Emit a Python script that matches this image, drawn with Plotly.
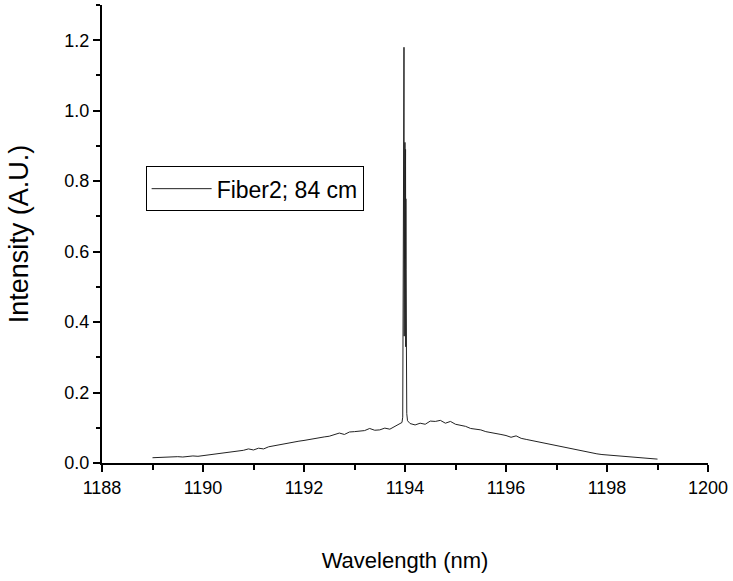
import plotly.graph_objects as go

# Broad emission background, 0.1 nm steps on each side of the line
wl_left = [1189.0, 1189.1, 1189.2, 1189.3, 1189.4, 1189.5, 1189.6, 1189.7, 1189.8, 1189.9,
           1190.0, 1190.1, 1190.2, 1190.3, 1190.4, 1190.5, 1190.6, 1190.7, 1190.8, 1190.9,
           1191.0, 1191.1, 1191.2, 1191.3, 1191.4, 1191.5, 1191.6, 1191.7, 1191.8, 1191.9,
           1192.0, 1192.1, 1192.2, 1192.3, 1192.4, 1192.5, 1192.6, 1192.7, 1192.8, 1192.9,
           1193.0, 1193.1, 1193.2, 1193.3, 1193.4, 1193.5, 1193.6, 1193.7, 1193.8, 1193.9]
int_left = [0.015, 0.016, 0.016, 0.017, 0.017, 0.018, 0.017, 0.019, 0.020, 0.019,
            0.021, 0.022, 0.024, 0.026, 0.028, 0.030, 0.031, 0.034, 0.036, 0.040,
            0.037, 0.042, 0.040, 0.046, 0.049, 0.052, 0.055, 0.057, 0.059, 0.062,
            0.064, 0.067, 0.069, 0.072, 0.074, 0.076, 0.080, 0.085, 0.081, 0.088,
            0.089, 0.090, 0.092, 0.098, 0.093, 0.094, 0.099, 0.096, 0.103, 0.110]

# Narrow laser line near 1194 nm (fast intensity fluctuations across the line)
wl_peak = [1193.94, 1193.955, 1193.965, 1193.975, 1193.98, 1193.984, 1193.987, 1193.99,
           1193.993, 1193.996, 1193.999, 1194.002, 1194.005, 1194.008, 1194.011,
           1194.014, 1194.017, 1194.02, 1194.025, 1194.035, 1194.05]
int_peak = [0.115, 0.13, 0.40, 0.95, 1.18, 0.36, 0.90, 0.55, 0.88, 0.60, 0.91, 0.58,
            0.86, 0.62, 0.89, 0.33, 0.75, 0.55, 0.30, 0.14, 0.12]

wl_right = [1194.1, 1194.2, 1194.3, 1194.4, 1194.5, 1194.6, 1194.7, 1194.8, 1194.9,
            1195.0, 1195.1, 1195.2, 1195.3, 1195.4, 1195.5, 1195.6, 1195.7, 1195.8, 1195.9,
            1196.0, 1196.1, 1196.2, 1196.3, 1196.4, 1196.5, 1196.6, 1196.7, 1196.8, 1196.9,
            1197.0, 1197.1, 1197.2, 1197.3, 1197.4, 1197.5, 1197.6, 1197.7, 1197.8, 1197.9,
            1198.0, 1198.1, 1198.2, 1198.3, 1198.4, 1198.5, 1198.6, 1198.7, 1198.8, 1198.9,
            1199.0]
int_right = [0.112, 0.108, 0.113, 0.110, 0.119, 0.118, 0.121, 0.113, 0.118,
             0.110, 0.108, 0.104, 0.098, 0.097, 0.094, 0.089, 0.087, 0.084, 0.081,
             0.078, 0.073, 0.077, 0.070, 0.067, 0.064, 0.061, 0.058, 0.055, 0.052,
             0.048, 0.045, 0.042, 0.039, 0.036, 0.033, 0.031, 0.028, 0.026, 0.024,
             0.023, 0.021, 0.020, 0.018, 0.017, 0.016, 0.015, 0.014, 0.013, 0.012,
             0.011]

wavelength = wl_left + wl_peak + wl_right
intensity = int_left + int_peak + int_right

x_ticks = [1188, 1190, 1192, 1194, 1196, 1198, 1200]
y_ticks = [0.0, 0.2, 0.4, 0.6, 0.8, 1.0, 1.2]

FONT = "Liberation Sans, Arial, sans-serif"

fig = go.Figure()
fig.add_trace(go.Scatter(
    x=wavelength, y=intensity, mode="lines",
    name="Fiber2; 84 cm",
    line=dict(color="#222222", width=1),
))

axis_common = dict(
    showgrid=False, zeroline=False, showline=True,
    linecolor="black", linewidth=2,
    ticks="outside", ticklen=7, tickwidth=1.5, tickcolor="black",
    tickfont=dict(family=FONT, size=18, color="black"),
    mirror=False,
)

fig.update_xaxes(
    range=[1188, 1200], tickvals=x_ticks, ticktext=[str(v) for v in x_ticks],
    title=dict(text="Wavelength (nm)", font=dict(family=FONT, size=22, color="black"), standoff=56),
    minor=dict(dtick=1, ticks="outside", ticklen=5, tickwidth=1.5, tickcolor="black"),
    **axis_common,
)
fig.update_yaxes(
    range=[0, 1.3], tickvals=y_ticks, ticktext=[f"{v:.1f}" for v in y_ticks],
    title=dict(text="Intensity (A.U.)", font=dict(family=FONT, size=27, color="black"), standoff=28),
    minor=dict(dtick=0.1, ticks="outside", ticklen=4, tickwidth=1.5, tickcolor="black"),
    **axis_common,
)

fig.update_layout(
    width=733, height=581,
    margin=dict(l=102, r=23, t=5, b=118),
    paper_bgcolor="white", plot_bgcolor="white",
    showlegend=True,
    legend=dict(
        x=0.072, y=0.648, xanchor="left", yanchor="top",
        bordercolor="black", borderwidth=1, bgcolor="white",
        itemwidth=60,
        font=dict(family=FONT, size=23, color="black"),
    ),
)

fig.write_html("out.html")
